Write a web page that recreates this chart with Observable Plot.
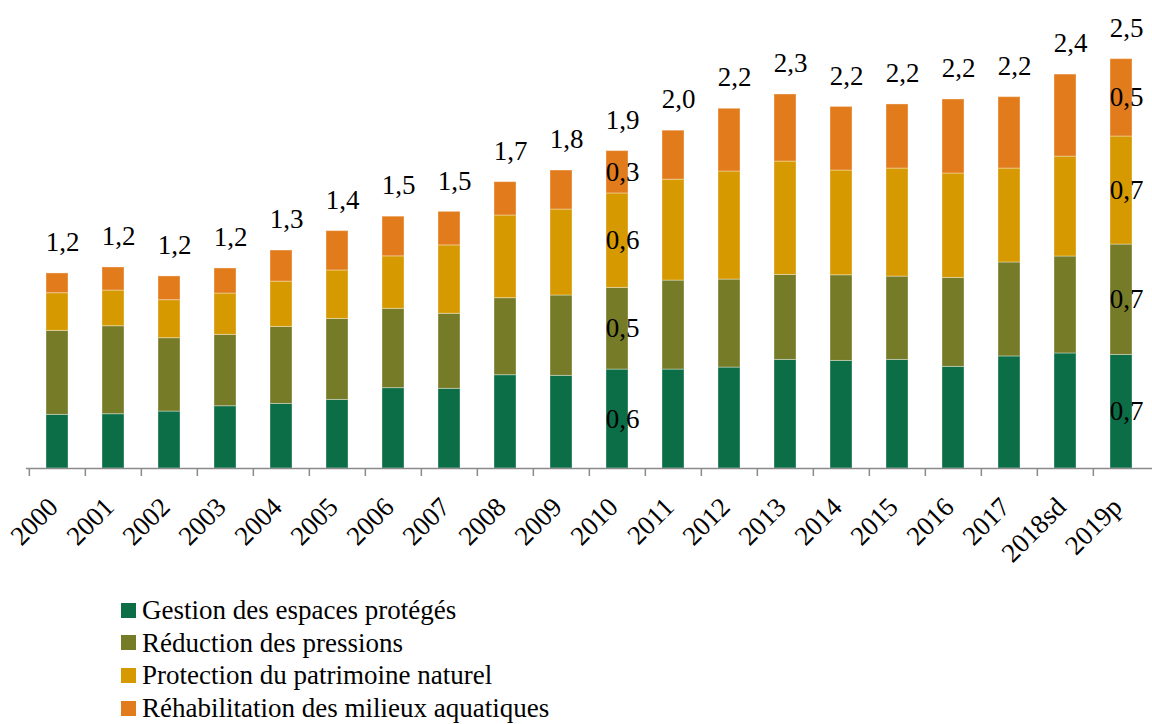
<!DOCTYPE html>
<html>
<head>
<meta charset="utf-8">
<script src="https://cdn.jsdelivr.net/npm/d3@7"></script>
<script src="https://cdn.jsdelivr.net/npm/@observablehq/plot@0.6"></script>
<style>
  html, body { margin: 0; padding: 0; background: #fff; }
  #wrap { position: relative; width: 1152px; height: 724px; font-family: "Liberation Serif", serif; overflow: hidden; }
  #legend { position: absolute; left: 121px; top: 594px; }
  .row { display: flex; align-items: center; height: 32.6px; font-size: 27px; line-height: 30px; color: #000; }
  .sw { width: 15px; height: 15px; margin-right: 6px; flex: none; }
</style>
</head>
<body>
<div id="wrap"><div id="chart"></div><div id="legend"></div></div>
<script>
const years = ["2000","2001","2002","2003","2004","2005","2006","2007","2008","2009","2010","2011","2012","2013","2014","2015","2016","2017","2018sd","2019p"];
const seriesNames = ["Gestion des espaces protégés","Réduction des pressions","Protection du patrimoine naturel","Réhabilitation des milieux aquatiques"];
const seriesColors = ["#0b6e46","#767b28","#d69a00","#e27b1b"];
const gestion    = [0.323,0.327,0.343,0.375,0.389,0.413,0.484,0.480,0.562,0.558,0.596,0.596,0.608,0.654,0.648,0.654,0.612,0.675,0.693,0.684];
const reduction  = [0.506,0.530,0.442,0.430,0.464,0.488,0.478,0.452,0.464,0.484,0.492,0.536,0.530,0.512,0.516,0.502,0.536,0.566,0.584,0.665];
const protection = [0.227,0.215,0.229,0.249,0.273,0.292,0.316,0.412,0.498,0.518,0.569,0.608,0.651,0.683,0.631,0.651,0.629,0.566,0.602,0.651];
const rehab      = [0.119,0.139,0.143,0.151,0.187,0.237,0.239,0.202,0.201,0.235,0.255,0.295,0.378,0.404,0.383,0.386,0.446,0.430,0.494,0.466];
const totalLabels = ["1,2","1,2","1,2","1,2","1,3","1,4","1,5","1,5","1,7","1,8","1,9","2,0","2,2","2,3","2,2","2,2","2,2","2,2","2,4","2,5"];
const labeledYears = ["2010","2019p"];

const seriesValues = [gestion, reduction, protection, rehab];
const table = [];
years.forEach((yr, i) => seriesNames.forEach((s, j) => table.push({year: yr, series: s, value: seriesValues[j][i]})));
const totals = years.map((yr, i) => ({year: yr, total: gestion[i] + reduction[i] + protection[i] + rehab[i], label: totalLabels[i]}));
const fmt = v => v.toFixed(1).replace(".", ",");

const W = 1152, H = 590, ML = 26, MR = 0, MB = 122, MT = 0;
const step = (W - ML - MR) / years.length;
const pxPerUnit = 166;
const yMax = (H - MB - MT) / pxPerUnit;
const font = "Liberation Serif";

const chart = Plot.plot({
  width: W, height: H,
  marginLeft: ML, marginRight: MR, marginTop: MT, marginBottom: MB,
  style: {fontFamily: font, background: "#fff", overflow: "visible"},
  x: {domain: years, paddingInner: 0.6, paddingOuter: 0.3, label: null},
  y: {domain: [0, yMax], axis: null},
  color: {domain: seriesNames, range: seriesColors},
  marks: [
    Plot.barY(table, {x: "year", y: "value", fill: "series", order: seriesNames, stroke: "#fff", strokeOpacity: 0.35, strokeWidth: 1}),
    Plot.ruleY([0], {stroke: "#8a8a8a", strokeWidth: 1.5}),
    Plot.ruleX(years, {x: d => d, y1: 0, y2: -8 / pxPerUnit, dx: -step / 2, stroke: "#8a8a8a", strokeWidth: 1.5}),
    Plot.axisX({tickSize: 0, tickPadding: 34, tickRotate: -45, fontSize: 27, fill: "#000", dx: -4, label: null}),
    Plot.text(totals, {x: "year", y: "total", text: "label", dy: -31, dx: 5, fontSize: 27, fill: "#000"}),
    Plot.text(table.filter(d => labeledYears.includes(d.year)), Plot.stackY({x: "year", y: "value", z: "series", order: seriesNames, text: d => fmt(d.value), dx: 5, fontSize: 27, fill: "#000"}))
  ]
});
document.getElementById("chart").appendChild(chart);

const legend = document.getElementById("legend");
seriesNames.forEach((s, j) => {
  const row = document.createElement("div");
  row.className = "row";
  const sw = document.createElement("span");
  sw.className = "sw";
  sw.style.background = seriesColors[j];
  const t = document.createElement("span");
  t.textContent = s;
  row.appendChild(sw); row.appendChild(t);
  legend.appendChild(row);
});
</script>
</body>
</html>
